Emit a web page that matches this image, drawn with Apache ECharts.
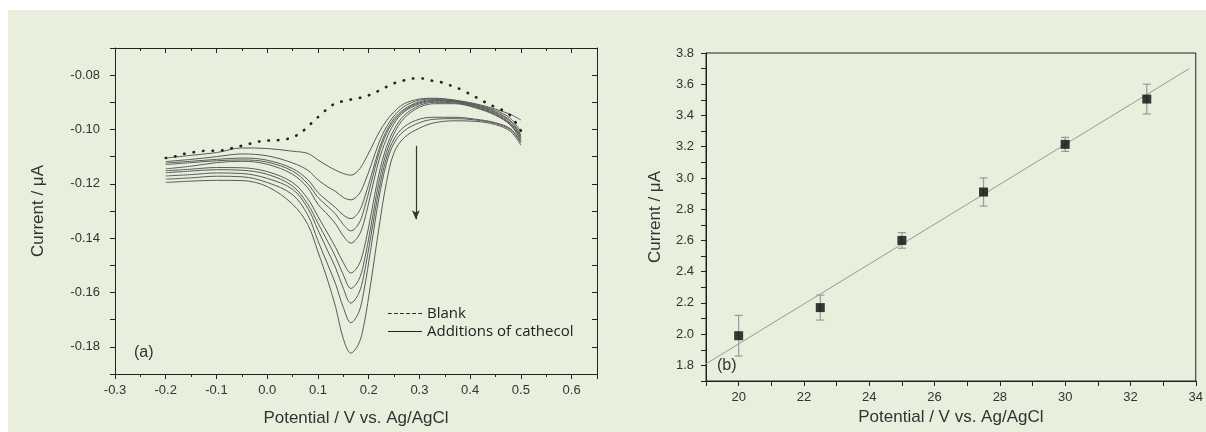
<!DOCTYPE html>
<html><head><meta charset="utf-8">
<script src="https://cdn.jsdelivr.net/npm/echarts@6/dist/echarts.min.js"></script>
<style>html,body{margin:0;padding:0;background:#fff}#c{width:1206px;height:432px}</style>
</head><body><div id="c"></div>
<script>
// ---- Panel (a): voltammograms ----
const potentials = [-0.2, -0.15, -0.1, -0.05, 0.0, 0.05, 0.08, 0.1, 0.12, 0.135, 0.15, 0.165, 0.18, 0.19, 0.205, 0.22, 0.235, 0.25, 0.27, 0.3, 0.33, 0.37, 0.41, 0.45, 0.48, 0.5];
const curve1  = [-0.1105,-0.1095,-0.1085,-0.1068,-0.1070,-0.1080,-0.1088,-0.1112,-0.1135,-0.1150,-0.1162,-0.1168,-0.1150,-0.1122,-0.1068,-0.1012,-0.0968,-0.0935,-0.0905,-0.0888,-0.0885,-0.0892,-0.0905,-0.0925,-0.0945,-0.0965];
const curve2  = [-0.1118,-0.1110,-0.1100,-0.1090,-0.1097,-0.1123,-0.1150,-0.1185,-0.1212,-0.1228,-0.1250,-0.1259,-0.1240,-0.1205,-0.1130,-0.1050,-0.0990,-0.0950,-0.0915,-0.0892,-0.0887,-0.0893,-0.0908,-0.0930,-0.0960,-0.1010];
const curve3  = [-0.1123,-0.1117,-0.1110,-0.1105,-0.1113,-0.1144,-0.1185,-0.1232,-0.1265,-0.1288,-0.1315,-0.1328,-0.1305,-0.1262,-0.1170,-0.1075,-0.1005,-0.0960,-0.0925,-0.0898,-0.0890,-0.0895,-0.0910,-0.0935,-0.0968,-0.1020];
const curve4  = [-0.1129,-0.1122,-0.1115,-0.1112,-0.1120,-0.1153,-0.1200,-0.1250,-0.1285,-0.1312,-0.1350,-0.1373,-0.1348,-0.1300,-0.1195,-0.1090,-0.1015,-0.0968,-0.0930,-0.0902,-0.0893,-0.0897,-0.0912,-0.0938,-0.0972,-0.1025];
const curve5  = [-0.1145,-0.1135,-0.1122,-0.1117,-0.1128,-0.1165,-0.1215,-0.1275,-0.1315,-0.1348,-0.1392,-0.1418,-0.1392,-0.1345,-0.1230,-0.1115,-0.1035,-0.0978,-0.0935,-0.0906,-0.0896,-0.0899,-0.0915,-0.0942,-0.0978,-0.1030];
const curve6  = [-0.1152,-0.1146,-0.1140,-0.1141,-0.1155,-0.1195,-0.1255,-0.1320,-0.1385,-0.1435,-0.1490,-0.1528,-0.1500,-0.1445,-0.1310,-0.1165,-0.1065,-0.1000,-0.0948,-0.0912,-0.0900,-0.0902,-0.0918,-0.0945,-0.0982,-0.1035];
const curve7  = [-0.1159,-0.1153,-0.1148,-0.1150,-0.1165,-0.1208,-0.1275,-0.1345,-0.1415,-0.1470,-0.1535,-0.1585,-0.1555,-0.1495,-0.1350,-0.1195,-0.1085,-0.1015,-0.0958,-0.0918,-0.0905,-0.0905,-0.0920,-0.0948,-0.0985,-0.1040];
const curve8  = [-0.1171,-0.1166,-0.1160,-0.1162,-0.1180,-0.1220,-0.1290,-0.1370,-0.1450,-0.1510,-0.1585,-0.1639,-0.1605,-0.1540,-0.1385,-0.1225,-0.1105,-0.1035,-0.0990,-0.0962,-0.0955,-0.0955,-0.0962,-0.0975,-0.0998,-0.1045];
const curve9  = [-0.1183,-0.1178,-0.1172,-0.1174,-0.1195,-0.1240,-0.1315,-0.1410,-0.1500,-0.1570,-0.1655,-0.1711,-0.1675,-0.1600,-0.1430,-0.1255,-0.1125,-0.1050,-0.1005,-0.0975,-0.0962,-0.0960,-0.0965,-0.0978,-0.1002,-0.1050];
const curve10 = [-0.1195,-0.1190,-0.1187,-0.1188,-0.1210,-0.1275,-0.1350,-0.1450,-0.1560,-0.1655,-0.1770,-0.1823,-0.1790,-0.1725,-0.1555,-0.1365,-0.1195,-0.1085,-0.1030,-0.0995,-0.0975,-0.0968,-0.0970,-0.0982,-0.1008,-0.1058];
const additionCurves = [curve1, curve2, curve3, curve4, curve5, curve6, curve7, curve8, curve9, curve10];

const blankX = [-0.200,-0.189,-0.167,-0.146,-0.127,-0.106,-0.086,-0.066,-0.046,-0.027,-0.009,0.012,0.030,0.047,0.065,0.082,0.098,0.116,0.134,0.154,0.172,0.191,0.210,0.229,0.246,0.264,0.284,0.305,0.324,0.343,0.360,0.375,0.400,0.420,0.440,0.460,0.480,0.500];
const blankY = [-0.1105,-0.1103,-0.1091,-0.1084,-0.1079,-0.1078,-0.1076,-0.1067,-0.1058,-0.1049,-0.1042,-0.1040,-0.1038,-0.1031,-0.1014,-0.0986,-0.0958,-0.0928,-0.0904,-0.0894,-0.0887,-0.0880,-0.0866,-0.0849,-0.0832,-0.0823,-0.0812,-0.0812,-0.0820,-0.0826,-0.0837,-0.0847,-0.0870,-0.0890,-0.0910,-0.0925,-0.0950,-0.1005];

const arrowX = 0.293, arrowTop = -0.106, arrowBottom = -0.133;

// ---- Panel (b): calibration ----
const concX   = [20, 22.5, 25, 27.5, 30, 32.5];
const currentY = [1.99, 2.17, 2.60, 2.91, 3.215, 3.505];
const errHigh = [2.12, 2.25, 2.65, 3.00, 3.26, 3.60];
const errLow  = [1.86, 2.09, 2.55, 2.82, 3.17, 3.41];
const fitX = [19, 33.8];
const fitY = [1.81, 3.70];

const xTitle = 'Potential / V vs. Ag/AgCl';
const yTitle = 'Current / \u03bcA';

const FONT = 'Liberation Sans, Arial, sans-serif';
const axisCol = '#222';
const lblStyle = {color:'#333', fontSize:13, fontFamily:FONT, interval:0};
const nameStyle = {color:'#333', fontSize:17, fontFamily:FONT};

const chart = echarts.init(document.getElementById('c'), null, {renderer:'canvas'});

const series = [];
additionCurves.forEach((c, idx) => {
  series.push({
    type:'line', name:'Additions of cathecol', xAxisIndex:0, yAxisIndex:0,
    data: potentials.map((x,i)=>[x, c[i]]), smooth:0.35, symbol:'none',
    lineStyle:{color:'#5a5a5a', width:1}, z:3, silent:true,
    markLine: idx === 0 ? {
      silent:true, symbol:['none','arrow'], symbolSize:[6,9], label:{show:false},
      lineStyle:{color:'#333', width:1.2, type:'solid'},
      data:[[{coord:[arrowX, arrowTop]},{coord:[arrowX, arrowBottom]}]]
    } : undefined
  });
});
series.push({
  type:'line', name:'Blank', xAxisIndex:0, yAxisIndex:0,
  data: blankX.map((x,i)=>[x, blankY[i]]), smooth:0.3, symbol:'none',
  lineStyle:{color:'#222', width:2.6, type:[0.5, 9], cap:'round'}, z:4, silent:true
});
// panel b
series.push({
  type:'line', name:'fit', xAxisIndex:2, yAxisIndex:2,
  data: fitX.map((x,i)=>[x, fitY[i]]), symbol:'none',
  lineStyle:{color:'#9a9a9a', width:1}, z:2, silent:true
});
series.push({
  type:'custom', name:'err', xAxisIndex:2, yAxisIndex:2, z:3, silent:true,
  data: concX.map((x,i)=>[x, errLow[i], errHigh[i]]),
  encode:{x:0, y:[1,2]},
  renderItem(params, api){
    const x = api.value(0);
    const lo = api.coord([x, api.value(1)]);
    const hi = api.coord([x, api.value(2)]);
    const w = 4;
    const st = {stroke:'#9a9a9a', lineWidth:1.2};
    return {type:'group', children:[
      {type:'line', shape:{x1:lo[0],y1:lo[1],x2:hi[0],y2:hi[1]}, style:st},
      {type:'line', shape:{x1:hi[0]-w,y1:hi[1],x2:hi[0]+w,y2:hi[1]}, style:st},
      {type:'line', shape:{x1:lo[0]-w,y1:lo[1],x2:lo[0]+w,y2:lo[1]}, style:st}
    ]};
  }
});
series.push({
  type:'scatter', name:'points', xAxisIndex:2, yAxisIndex:2,
  data: concX.map((x,i)=>[x, currentY[i]]), symbol:'rect', symbolSize:9,
  itemStyle:{color:'#0a0a0a'}, z:5, silent:true
});

const option = {
  backgroundColor:'#e8efdc',
  animation:false,
  grid:[
    {left:115, top:48, width:482, height:332, show:false},
    {left:706, top:53, width:495, height:328, show:true, borderColor:axisCol, borderWidth:1, backgroundColor:'transparent'}
  ],
  legend:{
    orient:'vertical', left:383, top:301, itemWidth:34, itemHeight:12, itemGap:3,
    textStyle:{fontFamily:'Open Sans, sans-serif', fontSize:15, color:'#222'},
    data:[
      {name:'Blank', icon:'path://M0,5 L3,5 L3,6 L0,6 Z M5,5 L8,5 L8,6 L5,6 Z M10,5 L13,5 L13,6 L10,6 Z M15,5 L18,5 L18,6 L15,6 Z M20,5 L23,5 L23,6 L20,6 Z M25,5 L28,5 L28,6 L25,6 Z', itemStyle:{color:'#222'}},
      {name:'Additions of cathecol', icon:'path://M0,11 L30,11 L30,12 L0,12 Z', itemStyle:{color:'#222'}}
    ],
    selectedMode:false
  },
  xAxis:[
    {type:'value', gridIndex:0, position:'bottom', min:-0.3, max:0.65, interval:0.1,
     axisLine:{show:true, onZero:false, lineStyle:{color:axisCol, width:1}},
     axisTick:{show:true, inside:false, length:5, lineStyle:{color:axisCol}},
     minorTick:{show:true, splitNumber:2, length:3, lineStyle:{color:axisCol}},
     splitLine:{show:false},
     axisLabel:Object.assign({}, lblStyle, {margin:10, showMaxLabel:false, formatter:v=>{const k=Math.round(v*10); return Math.abs(v*10-k)<1e-6 ? (k/10).toFixed(1) : '';}}),
     name:xTitle, nameLocation:'middle', nameGap:36, nameTextStyle:nameStyle},
    {type:'value', gridIndex:0, position:'top', min:-0.3, max:0.65, interval:0.1,
     axisLine:{show:true, onZero:false, lineStyle:{color:axisCol, width:1}},
     axisTick:{show:true, inside:true, length:5, lineStyle:{color:axisCol}},
     minorTick:{show:true, splitNumber:2, length:3, lineStyle:{color:axisCol}},
     splitLine:{show:false}, axisLabel:{show:false}},
    {type:'value', gridIndex:1, position:'bottom', min:19, max:34, interval:1,
     axisLine:{show:true, onZero:false, lineStyle:{color:axisCol, width:1}},
     axisTick:{show:true, inside:false, length:5, lineStyle:{color:axisCol}},
     splitLine:{show:false},
     axisLabel:Object.assign({}, lblStyle, {margin:10, formatter:v=>{const k=Math.round(v); return k%2===0 ? String(k) : '';}}),
     name:xTitle, nameLocation:'middle', nameGap:25, nameTextStyle:nameStyle}
  ],
  yAxis:[
    {type:'value', gridIndex:0, position:'left', min:-0.19, max:-0.07, interval:0.01,
     axisLine:{show:true, onZero:false, lineStyle:{color:axisCol, width:1}},
     axisTick:{show:true, inside:false, length:5, lineStyle:{color:axisCol}},
     splitLine:{show:false},
     axisLabel:Object.assign({}, lblStyle, {margin:15, formatter:v=>{const k=Math.round(v*100); return k%2===0 ? (k/100).toFixed(2) : '';}}),
     name:yTitle, nameLocation:'middle', nameGap:68, nameTextStyle:nameStyle},
    {type:'value', gridIndex:0, position:'right', min:-0.19, max:-0.07, interval:0.01,
     axisLine:{show:true, onZero:false, lineStyle:{color:axisCol, width:1}},
     axisTick:{show:true, inside:true, length:5, lineStyle:{color:axisCol}},
     splitLine:{show:false}, axisLabel:{show:false}},
    {type:'value', gridIndex:1, position:'left', min:1.7, max:3.8, interval:0.1,
     axisLine:{show:true, onZero:false, lineStyle:{color:axisCol, width:1}},
     axisTick:{show:true, inside:false, length:5, lineStyle:{color:axisCol}},
     splitLine:{show:false},
     axisLabel:Object.assign({}, lblStyle, {margin:12, formatter:v=>{const k=Math.round(v*10); return k%2===0 ? (k/10).toFixed(1) : '';}}),
     name:yTitle, nameLocation:'middle', nameGap:42, nameTextStyle:nameStyle}
  ],
  graphic:[
    {type:'rect', shape:{x:0, y:0, width:1206, height:10}, style:{fill:'#ffffff'}, silent:true},
    {type:'rect', shape:{x:0, y:0, width:8, height:432}, style:{fill:'#ffffff'}, silent:true},
    {type:'text', left:134, top:345, style:{text:'(a)', font:'16px '+FONT, fill:'#333'}, silent:true},
    {type:'text', left:717, top:358, style:{text:'(b)', font:'16px '+FONT, fill:'#333'}, silent:true}
  ],
  series
};
chart.setOption(option);
</script>
</body></html>
